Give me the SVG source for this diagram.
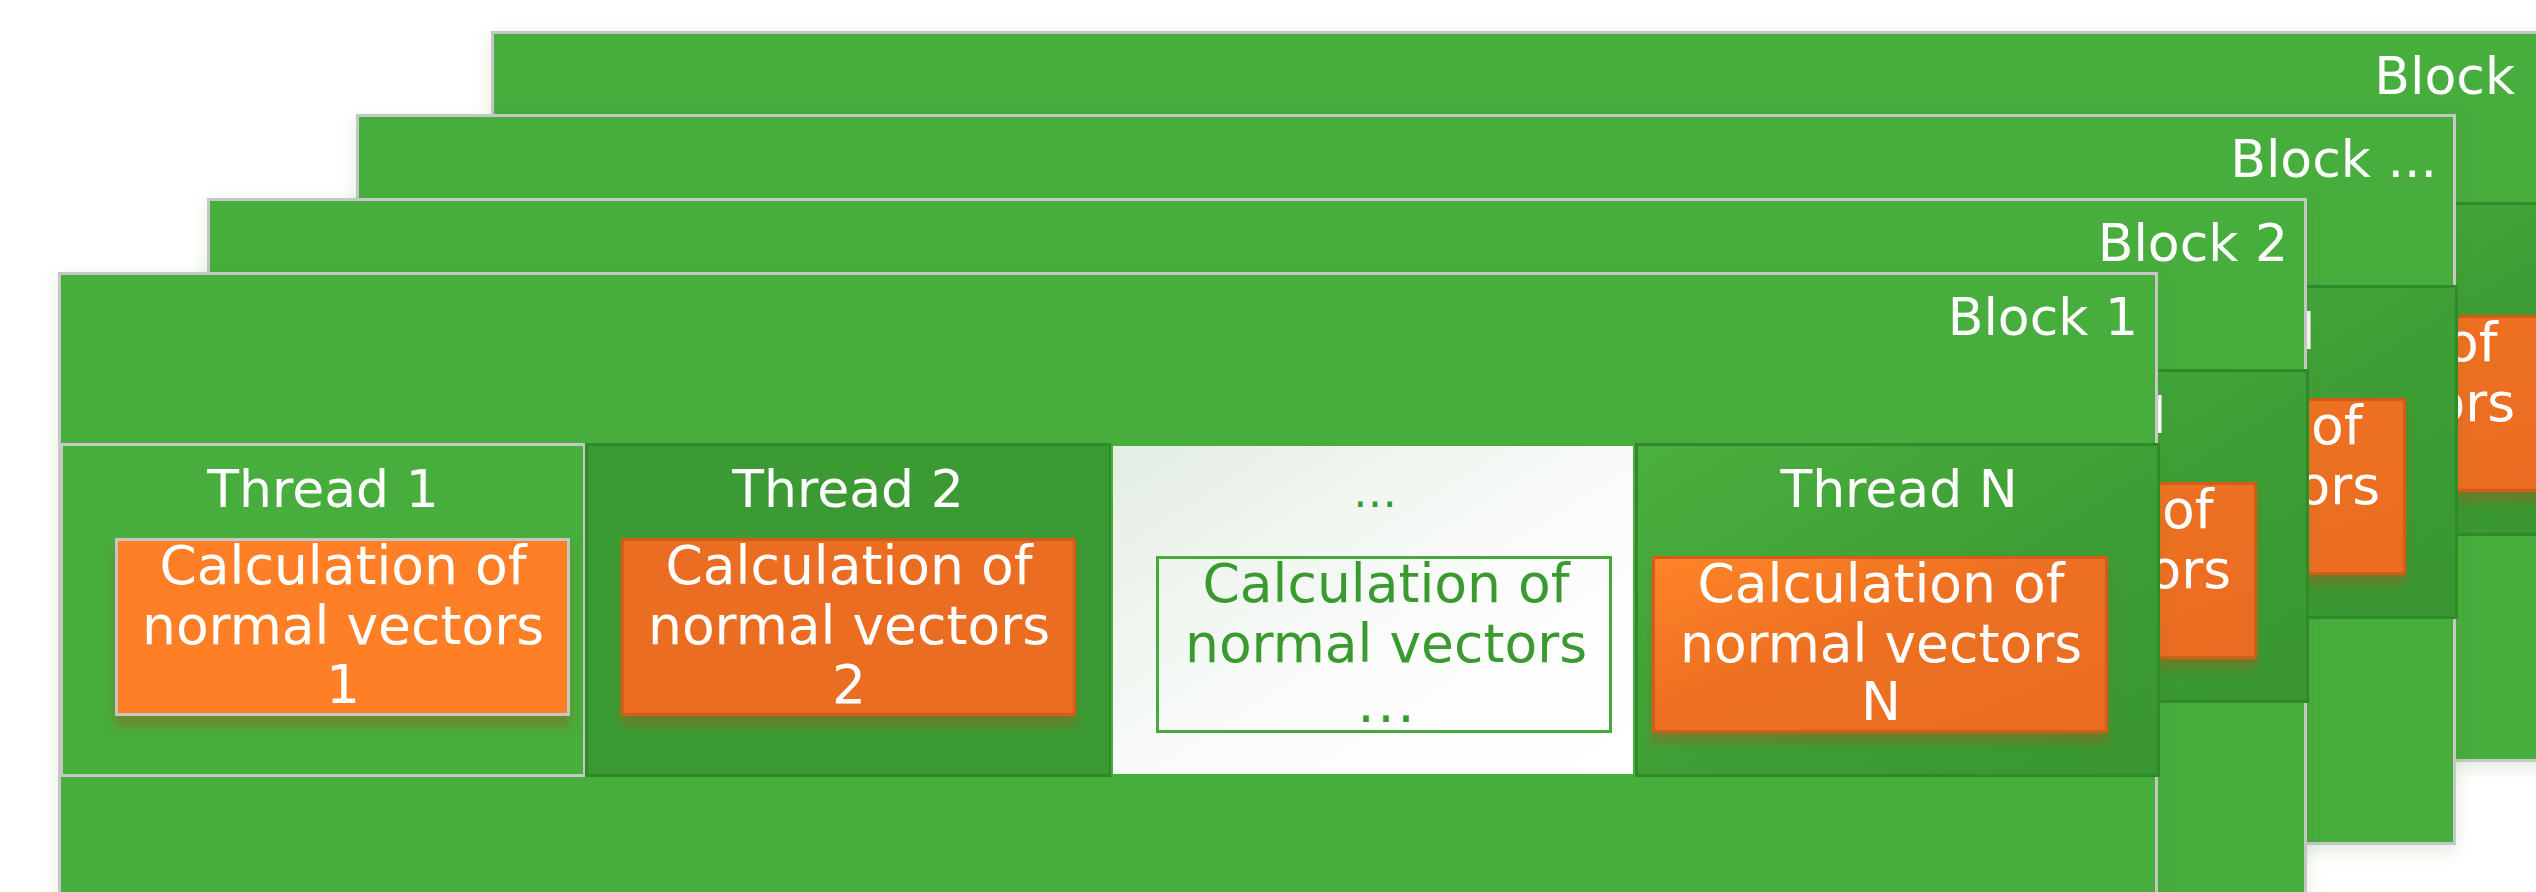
<svg xmlns="http://www.w3.org/2000/svg" xmlns:xlink="http://www.w3.org/1999/xlink" width="2536" height="892" viewBox="0 0 2536 892">
<style>
  .block{fill:#47AD3C;stroke:#C6C6C6;stroke-width:3}
  .cell1{fill:#47AD3C;stroke:#C6C6C6;stroke-width:3}
  .cell2{fill:#3B9A33;stroke:#2F8A2A;stroke-width:3}
  .cellW{fill:url(#gWhite);stroke:#47AD3C;stroke-width:2}
  .cellN{fill:url(#gGreen);stroke:#2F8A2A;stroke-width:3}
  .or1{fill:#FE7F28;stroke:#C6C6C6;stroke-width:3}
  .or2{fill:#EA6D20;stroke:#D55B18;stroke-width:3}
  .orN{fill:url(#gOrange);stroke:#D55B18;stroke-width:3}
  .wbox{fill:none;stroke:#47A83C;stroke-width:3}
  text{font-family:"DejaVu Sans",Verdana,sans-serif;font-size:52px;fill:#FFFFFF}
  .bt{font-size:53.5px}
  .mid{text-anchor:middle}
  .end{text-anchor:end}
  .g{fill:#3A9A30}
</style>
<defs>
  <linearGradient id="gWhite" x1="0" y1="0" x2="1" y2="1">
    <stop offset="0" stop-color="#E3EDE3"/>
    <stop offset="0.55" stop-color="#FAFCFA"/>
    <stop offset="1" stop-color="#FFFFFF"/>
  </linearGradient>
  <linearGradient id="gGreen" x1="0" y1="0" x2="1" y2="1">
    <stop offset="0" stop-color="#4AB03F"/>
    <stop offset="0.6" stop-color="#3D9C34"/>
    <stop offset="1" stop-color="#399631"/>
  </linearGradient>
  <linearGradient id="gOrange" x1="0" y1="0" x2="1" y2="1">
    <stop offset="0" stop-color="#FF8429"/>
    <stop offset="0.45" stop-color="#ED7021"/>
    <stop offset="1" stop-color="#EA6C20"/>
  </linearGradient>
  <filter id="boxShadow" x="-5%" y="-5%" width="110%" height="130%">
    <feDropShadow dx="0" dy="10" stdDeviation="4" flood-color="#8A6A1A" flood-opacity="0.55"/>
  </filter>
  <filter id="blockShadow" x="-3%" y="-5%" width="106%" height="115%">
    <feDropShadow dx="0" dy="6" stdDeviation="8" flood-color="#3A7A30" flood-opacity="0.15"/>
  </filter>
</defs>

<g id="block4" transform="translate(433,-241)">
  <rect class="block" x="59.5" y="273.5" width="2097" height="728" filter="url(#blockShadow)"/>
  <text class="end" x="2082" y="335">Block</text>
  <use href="#row1"/>
</g>

<g id="block3" transform="translate(298,-158)">
  <rect class="block" x="59.5" y="273.5" width="2097" height="728" filter="url(#blockShadow)"/>
  <text class="end" x="2139" y="335">Block ...</text>
  <use href="#row1"/>
</g>

<g id="block2" transform="translate(149,-74)">
  <rect class="block" x="59.5" y="273.5" width="2097" height="728" filter="url(#blockShadow)"/>
  <text class="end" x="2139" y="335">Block 2</text>
  <use href="#row1"/>
</g>

<g id="block1">
  <rect class="block" x="59.5" y="273.5" width="2097" height="728" filter="url(#blockShadow)"/>
  <text class="end" x="2138" y="335">Block 1</text>
  <g id="row1">
    <g id="thread1">
      <rect class="cell1" x="61.5" y="444.5" width="523" height="331"/>
      <text class="mid" x="323" y="507">Thread 1</text>
      <rect class="or1" x="116.5" y="539.5" width="452" height="175" filter="url(#boxShadow)"/>
      <text class="mid bt" x="343" y="584">Calculation of</text>
      <text class="mid bt" x="343" y="644">normal vectors</text>
      <text class="mid bt" x="343" y="703">1</text>
    </g>
    <g id="thread2">
      <rect class="cell2" x="586.5" y="444.5" width="524" height="331"/>
      <text class="mid" x="848" y="507">Thread 2</text>
      <rect class="or2" x="622.5" y="539.5" width="452" height="175" filter="url(#boxShadow)"/>
      <text class="mid bt" x="849" y="584">Calculation of</text>
      <text class="mid bt" x="849" y="644">normal vectors</text>
      <text class="mid bt" x="849" y="703">2</text>
    </g>
    <g id="threadDots">
      <rect class="cellW" x="1112" y="445" width="522" height="330"/>
      <text class="mid g" x="1375" y="507" style="font-size:44px">…</text>
      <rect class="wbox" x="1157.5" y="557.5" width="453" height="174"/>
      <text class="mid g bt" x="1386" y="602">Calculation of</text>
      <text class="mid g bt" x="1386" y="662">normal vectors</text>
      <text class="g bt" x="1357.5" y="722" style="letter-spacing:3px">...</text>
    </g>
    <g id="threadN">
      <rect class="cellN" x="1636.5" y="444.5" width="522" height="331"/>
      <text class="mid" x="1899" y="507">Thread N</text>
      <rect class="orN" x="1653.5" y="557.5" width="453" height="174" filter="url(#boxShadow)"/>
      <text class="mid bt" x="1881" y="602">Calculation of</text>
      <text class="mid bt" x="1881" y="662">normal vectors</text>
      <text class="mid bt" x="1881" y="720">N</text>
    </g>
  </g>
</g>
<g id="connectors"></g>
</svg>
